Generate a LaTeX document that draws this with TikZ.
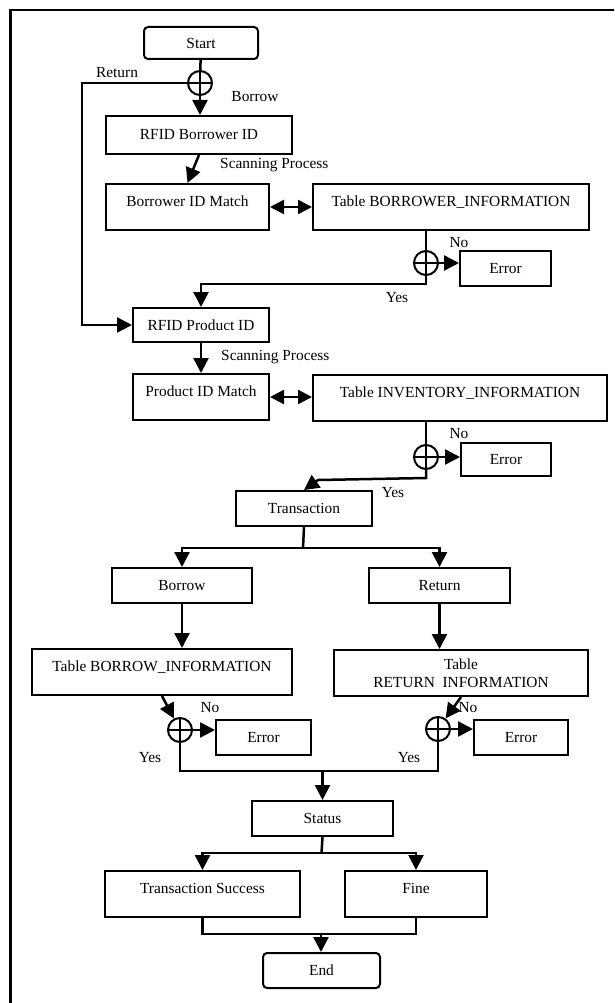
\documentclass[tikz,border=0pt]{standalone}
\usepackage{fontspec}
\setmainfont{Liberation Serif}
\usetikzlibrary{arrows.meta}
\begin{document}
\begin{tikzpicture}[x=1pt,y=-1pt,
  every node/.style={font=\fontsize{15.4pt}{18pt}\selectfont},
  box/.style={draw, line width=2pt, inner sep=0pt, anchor=north west, align=center},
  topbox/.style={box, text height=22pt, text depth=24pt},
  rbox/.style={box, rounded corners=4pt},
  plus/.style={draw, circle, line width=2pt, minimum size=24pt, inner sep=0pt,
    path picture={\draw[line width=1.8pt]
      (path picture bounding box.north) -- (path picture bounding box.south)
      (path picture bounding box.west) -- (path picture bounding box.east);}},
  conn/.style={line width=2.5pt},
  arr/.style={conn, -{Triangle[length=15pt,width=15pt]}},
  darr/.style={conn, {Triangle[length=14pt,width=14pt]}-{Triangle[length=14pt,width=14pt]}},
  lbl/.style={inner sep=0pt, anchor=base},
  lblw/.style={inner sep=0pt, anchor=base west}]

\useasboundingbox (0,0) rectangle (614,1003);
\begin{scope}
  \clip (0,0) rectangle (614,1003);
  \draw[line width=2.2pt] (10.5,1020) -- (10.5,10) -- (630,10);
\end{scope}

% boxes
\node[rbox, minimum width=114pt, minimum height=32pt] (start) at (143,26) {Start};
\node[plus] (c1) at (200,83) {};
\node[box, minimum width=186pt, minimum height=38pt] (rbid) at (105,115) {RFID Borrower ID};
\node[topbox, minimum width=163pt] (bmatch) at (105,183) {Borrower ID Match};
\node[topbox, minimum width=276pt] (btable) at (312,183) {Table BORROWER\_INFORMATION};
\node[plus] (c2) at (426,263) {};
\node[box, minimum width=91pt, minimum height=35pt] (err1) at (459,250) {Error};
\node[box, minimum width=136pt, minimum height=34pt] (rpid) at (132,307) {RFID Product ID};
\node[topbox, minimum width=136pt] (pmatch) at (132,373) {Product ID Match};
\node[topbox, minimum width=294pt] (itable) at (312,374) {Table INVENTORY\_INFORMATION};
\node[plus] (c3) at (426,457) {};
\node[box, minimum width=90pt, minimum height=33pt] (err2) at (460,442) {Error};
\node[box, minimum width=136pt, minimum height=35pt] (trans) at (235,490) {Transaction};
\node[box, minimum width=140pt, minimum height=35pt] (borrow) at (111,567) {Borrow};
\node[box, minimum width=141pt, minimum height=35pt] (ret) at (368,567) {Return};
\node[topbox, minimum width=260pt] (bortab) at (31,648) {Table BORROW\_INFORMATION};
\node[box, minimum width=254pt, minimum height=46pt] (rettab) at (333,649) {Table\\RETURN~~INFORMATION};
\node[plus] (c4) at (180,730) {};
\node[box, minimum width=95pt, minimum height=35pt] (err3) at (215,719) {Error};
\node[plus] (c5) at (438,729) {};
\node[box, minimum width=94pt, minimum height=35pt] (err4) at (473,719) {Error};
\node[box, minimum width=141pt, minimum height=35pt] (status) at (251,800) {Status};
\node[topbox, minimum width=195pt] (tsucc) at (104,870) {Transaction Success};
\node[topbox, minimum width=142pt] (fine) at (344,870) {Fine};
\node[rbox, minimum width=117pt, minimum height=35pt] (end) at (262,952) {End};

% labels
\node[lbl] (lret) at (117,78) {Return};
\node[lbl] (lbor) at (255,102) {Borrow};
\node[lblw] (lscan1) at (220,168) {Scanning Process};
\node[lblw] (lscan2) at (221,360) {Scanning Process};
\node[lbl] (lno1) at (459,247) {No};
\node[lbl] (lyes1) at (397,302) {Yes};
\node[lbl] (lno2) at (459,438) {No};
\node[lbl] (lyes2) at (393,497) {Yes};
\node[lbl] (lno3) at (210,712) {No};
\node[lbl] (lyes3) at (150,762) {Yes};
\node[lbl] (lno4) at (468,712) {No};
\node[lbl] (lyes4) at (409,762) {Yes};

% junction points
\coordinate (retc) at (82,83);
\coordinate (y1) at (426,284);
\coordinate (y2) at (426,478);
\coordinate (y2b) at (318,480);
\coordinate (sp1) at (303,548);
\coordinate (jl) at (180,771);
\coordinate (sp2) at (321.5,853);
\coordinate (mg) at (321,934);

% connectors
\draw[conn] (start) -- (c1);
\draw[arr] (c1.south) -- (c1.south |- rbid.north);
\draw[arr] (c1.west) -- (retc) |- (rpid.west);
\draw[arr] (rbid.south) -- (bmatch.north);
\draw[darr] (bmatch.east) -- (btable.west);
\draw[conn] (c2 |- btable.south) -- (c2);
\draw[arr] (c2.east) -- (c2 -| err1.west);
\draw[arr] (c2.south) -- (y1) -| (rpid.north);
\draw[arr] (rpid.south) -- (pmatch.north);
\draw[darr] (pmatch.east) -- (pmatch.east -| itable.west);
\draw[conn] (c3 |- itable.south) -- (c3);
\draw[arr] (c3.east) -- (c3 -| err2.west);
\draw[arr] (c3.south) -- (y2) -- (y2b) -- (trans.north);
\draw[conn] (trans.south) -- (sp1);
\draw[arr] (sp1) -| (borrow.north);
\draw[arr] (sp1) -| (ret.north);
\draw[arr] (borrow.south) -- (borrow.south |- bortab.north);
\draw[arr] (ret.south) -- (ret.south |- rettab.north);
\draw[arr] (bortab.south) -- (c4);
\draw[arr] (rettab.south) -- (c5);
\draw[arr] (c4.east) -- (c4 -| err3.west);
\draw[arr] (c5.east) -- (c5 -| err4.west);
\draw[conn] (c4.south) -- (jl) -| (c5.south);
\draw[arr] (status.north |- jl) -- (status.north);
\draw[conn] (status.south) -- (sp2);
\draw[arr] (sp2) -| (tsucc.north);
\draw[arr] (sp2) -| (fine.north);
\draw[conn] (tsucc.south) |- (mg) -| (fine.south);
\draw[arr] (mg) -- (mg |- end.north);
\end{tikzpicture}
\end{document}
